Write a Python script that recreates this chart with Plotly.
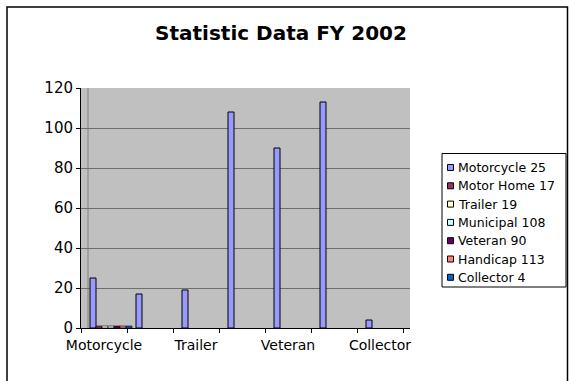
import plotly.graph_objects as go

# ---- data -------------------------------------------------------------
categories = ["Motorcycle", "Motor Home", "Trailer", "Municipal",
              "Veteran", "Handicap", "Collector"]
counts = [25, 17, 19, 108, 90, 113, 4]          # main series, one per category
other_series = ["Motor Home 17", "Trailer 19", "Municipal 108",
                "Veteran 90", "Handicap 113", "Collector 4"]
other_values = [1, 1, 1, 1, 1, 1]                # small stubs in the first group
legend_names = ["Motorcycle 25"] + other_series
series_colors = ["#9999FF", "#993366", "#FFFFCC", "#CCFFFF",
                 "#660066", "#FF8080", "#0066CC"]
y_ticks = [0, 20, 40, 60, 80, 100, 120]
shown_labels = ["Motorcycle", "Trailer", "Veteran", "Collector"]

# ---- page geometry (pixels) --------------------------------------------
W, H = 569, 381
L, R, T, B = 81, 159, 88, 53
PW, PH = W - L - R, H - T - B
FONT = "DejaVu Sans"


def fx(p):
    return (p - L) / PW


def fy(p):
    return (H - B - p) / PH


# the back wall sits a few pixels right of the front axis
depth = 7 / 46.0
x_lo = -0.5 - depth
x_hi = x_lo + PW / 46.0

fig = go.Figure()
fig.add_trace(go.Bar(
    x=list(range(len(categories))), y=counts,
    marker=dict(color=series_colors[0], line=dict(color="black", width=1)),
    showlegend=False,
))
for name, val, col in zip(other_series, other_values, series_colors[1:]):
    fig.add_trace(go.Bar(
        x=[0], y=[val], name=name,
        marker=dict(color=col, line=dict(color="black", width=0.6)),
        showlegend=False,
    ))

label_pos = [categories.index(c) - depth for c in shown_labels]
boundaries = [i - 0.5 - depth for i in range(len(categories) + 1)]

fig.update_layout(
    width=W, height=H, autosize=False,
    margin=dict(l=L, r=R, t=T, b=B, pad=0),
    paper_bgcolor="white", plot_bgcolor="#C0C0C0",
    barmode="group", bargap=0.087, bargroupgap=0,
    font=dict(family=FONT, color="black"),
    title=dict(text="<b>Statistic Data FY 2002</b>", xref="container",
               x=281 / W, xanchor="center", yref="container",
               y=1 - 33 / H, yanchor="middle",
               font=dict(family=FONT, size=20, color="black")),
    xaxis=dict(range=[x_lo, x_hi], tickmode="array", tickvals=label_pos,
               ticktext=shown_labels, ticks="outside", ticklen=4,
               tickcolor="rgba(0,0,0,0)", showgrid=False, zeroline=False,
               showline=True, linecolor="black", linewidth=1,
               tickfont=dict(family=FONT, size=14, color="black"),
               minor=dict(tickmode="array", tickvals=boundaries,
                          ticks="outside", ticklen=4, tickcolor="black",
                          tickwidth=1, showgrid=False)),
    yaxis=dict(range=[0, 120], tickmode="array", tickvals=y_ticks,
               ticks="outside", ticklen=4, tickcolor="black",
               showgrid=True, gridcolor="#6E6E6E", gridwidth=1,
               zeroline=False, showline=True, linecolor="black",
               linewidth=1,
               tickfont=dict(family=FONT, size=15, color="black")),
)

shapes = []
# back-wall edge
shapes.append(dict(type="line", xref="x", yref="paper", x0=-0.5, x1=-0.5,
                   y0=0, y1=1, line=dict(color="#808080", width=1),
                   layer="below"))
# outer chart frame
shapes.append(dict(type="rect", xref="paper", yref="paper",
                   x0=fx(7), x1=fx(567.5), y0=fy(400), y1=fy(7),
                   line=dict(color="black", width=1.5)))
# legend frame
shapes.append(dict(type="rect", xref="paper", yref="paper",
                   x0=fx(442), x1=fx(566), y0=fy(287), y1=fy(153.5),
                   line=dict(color="black", width=1), fillcolor="white",
                   layer="below"))

annotations = []
row0, step = 167.5, 18.3
for k, (name, col) in enumerate(zip(legend_names, series_colors)):
    cy = row0 + k * step
    shapes.append(dict(type="rect", xref="paper", yref="paper",
                       x0=fx(447.5), x1=fx(453.5),
                       y0=fy(cy + 3), y1=fy(cy - 3),
                       line=dict(color="black", width=1), fillcolor=col))
    annotations.append(dict(xref="paper", yref="paper", x=fx(456),
                            y=fy(cy), text=name, showarrow=False,
                            xanchor="left", yanchor="middle",
                            font=dict(family=FONT, size=12.5,
                                      color="black")))

fig.update_layout(shapes=shapes, annotations=annotations)
fig.write_html("out.html")
